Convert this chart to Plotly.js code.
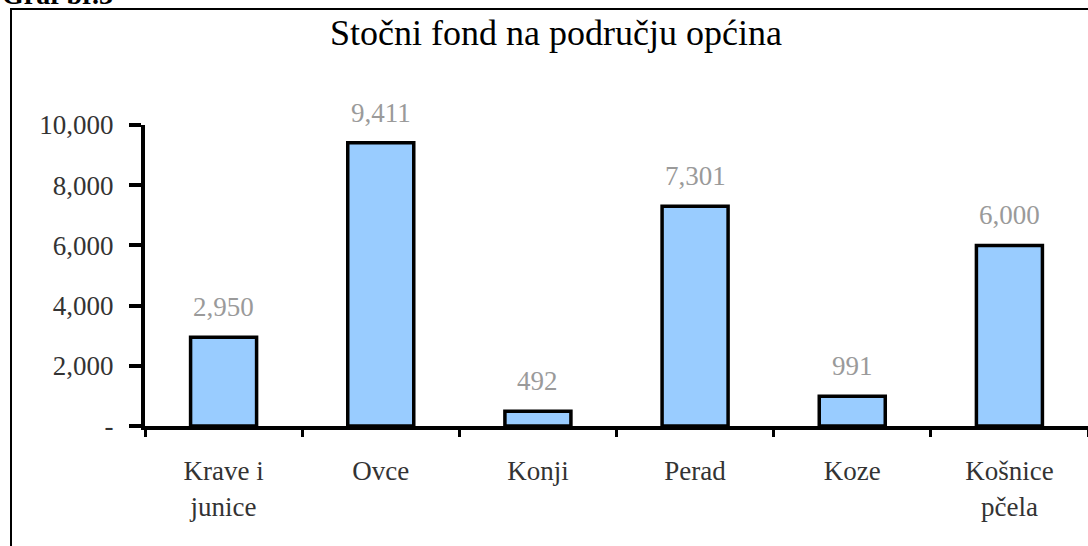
<!DOCTYPE html>
<html>
<head>
<meta charset="utf-8">
<script src="https://cdn.plot.ly/plotly-3.0.1.min.js"></script>
<style>
  html, body { margin: 0; padding: 0; background: #fff; width: 1088px; height: 546px; overflow: hidden; }
  #chart { position: absolute; left: 0; top: 0; width: 1088px; height: 546px; }
  #frame { position: absolute; left: 10px; top: 8px; width: 1200px; height: 700px;
           border-left: 2px solid #000; border-top: 2px solid #000; pointer-events: none; }
  #caption { position: absolute; left: 2px; top: -21px; font-family: 'Liberation Serif', serif;
             font-weight: bold; font-size: 28px; line-height: 32px; color: #000; white-space: nowrap; }
</style>
</head>
<body>
<div id="chart"></div>
<div id="frame"></div>
<div id="caption">Graf br.3</div>
<script>
const categories = ["Krave i<br>junice", "Ovce", "Konji", "Perad", "Koze", "Košnice<br>pčela"];
const values = [2950, 9411, 492, 7301, 991, 6000];
const valueLabels = ["2,950", "9,411", "492", "7,301", "991", "6,000"];
const yTickVals = [0, 2000, 4000, 6000, 8000, 10000];
const yTickText = ["-", "2,000", "4,000", "6,000", "8,000", "10,000"];
const chartTitle = "Stočni fond na području općina";

const serif = 'Liberation Serif, DejaVu Serif, serif';

const trace = {
  type: 'bar',
  x: categories,
  y: values,
  width: 0.42,
  marker: { color: '#99CCFF', line: { color: '#000', width: 3.5 } },
  hoverinfo: 'none',
  showlegend: false
};

const annotations = categories.map((c, i) => ({
  x: c, y: values[i], xref: 'x', yref: 'y',
  text: valueLabels[i], showarrow: false,
  yanchor: 'bottom', yshift: 13,
  font: { family: serif, size: 27, color: '#9a9a9a' }
}));

const layout = {
  width: 1088, height: 546,
  margin: { l: 145, r: 0, t: 125, b: 120, pad: 0 },
  paper_bgcolor: '#fff', plot_bgcolor: '#fff',
  font: { family: serif },
  title: { text: chartTitle, x: 0.511, xref: 'container', xanchor: 'center', y: 0.94, yanchor: 'middle',
           font: { family: serif, size: 36, color: '#000' } },
  xaxis: {
    type: 'category',
    range: [-0.5, 5.5],
    showline: true, linecolor: '#000', linewidth: 4,
    ticks: 'outside', tickson: 'boundaries', ticklen: 7, tickwidth: 3, tickcolor: '#000',
    ticklabelstandoff: 18,
    tickfont: { family: serif, size: 27, color: '#333' },
    showgrid: false, zeroline: false, fixedrange: true
  },
  yaxis: {
    range: [0, 10000],
    tickvals: yTickVals, ticktext: yTickText,
    showline: true, linecolor: '#000', linewidth: 4,
    ticks: 'outside', ticklen: 12, tickwidth: 4, tickcolor: '#000',
    ticklabelstandoff: 10,
    tickfont: { family: serif, size: 27, color: '#333' },
    showgrid: false, zeroline: false, fixedrange: true
  },
  annotations: annotations
};

Plotly.newPlot('chart', [trace], layout, { displayModeBar: false, staticPlot: true });
</script>
</body>
</html>
